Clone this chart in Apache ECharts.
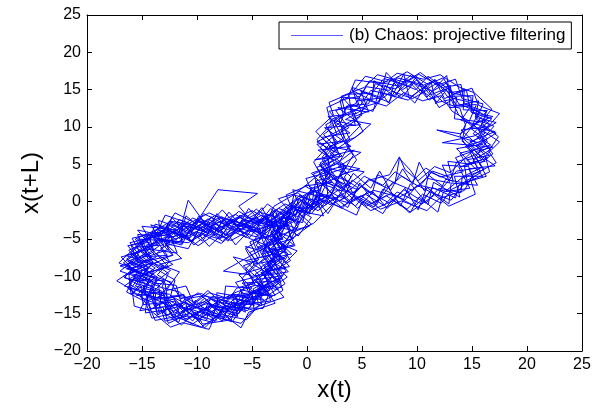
<!DOCTYPE html>
<html>
<head>
<meta charset="utf-8">
<script src="https://cdn.jsdelivr.net/npm/echarts@6/dist/echarts.min.js"></script>
<style>
html,body{margin:0;padding:0;background:#fff;}
#chart{width:594px;height:409px;}
</style>
</head>
<body>
<div id="chart"></div>
<script>
// Axis ticks
var xTicks = [-20, -15, -10, -5, 0, 5, 10, 15, 20, 25];
var yTicks = [-20, -15, -10, -5, 0, 5, 10, 15, 20, 25];
var seriesName = '(b) Chaos: projective filtering';

// Trajectory points [x(t), x(t+L)], in order
var lowerLoops1 = [
[-2.1,-2.8],[-3.4,-4.6],[-2.6,-6.9],[-3.9,-8.7],[-3.2,-10.8],[-5.1,-12.4],[-6.3,-14.6],[-8.8,-13.9],[-10.4,-15.2],[-12.6,-13.1],[-13.1,-11.6],[-15.2,-10.2],[-14.0,-8.1],[-14.9,-6.3],[-12.8,-4.7],[-11.2,-3.2],[-9.1,-4.1],[-7.0,-2.9],[-5.2,-3.6],[-3.6,-2.2],
[-3.8,-3.9],[-4.6,-5.8],[-3.9,-7.6],[-5.3,-9.4],[-4.7,-11.2],[-6.4,-12.1],[-8.2,-13.4],[-9.6,-12.3],[-11.5,-13.0],[-12.3,-11.0],[-13.6,-9.8],[-12.5,-8.0],[-13.3,-6.2],[-11.6,-5.3],[-10.1,-4.0],[-8.0,-5.0],[-6.4,-3.8],[-4.9,-4.6],
[-2.9,-5.2],[-1.8,-7.3],[-2.7,-9.5],[-2.2,-11.9],[-4.1,-13.4],[-5.5,-15.8],[-7.9,-15.1],[-9.6,-16.8],[-11.9,-15.4],[-13.8,-15.9],[-14.6,-13.2],[-16.3,-11.6],[-15.4,-9.3],[-17.1,-8.2],[-15.6,-6.1],[-14.3,-4.4],[-12.5,-2.7],[-10.3,-3.6],[-8.4,-1.9],[-6.1,-2.8],[-4.3,-1.4],[-2.4,-2.3],
[-1.6,-3.9],[-3.1,-6.1],[-2.3,-8.0],[-4.4,-9.9],[-3.6,-12.3],[-5.9,-13.5],[-7.4,-15.6],[-9.2,-14.3],[-11.0,-15.9],[-12.2,-14.1],[-14.4,-12.7],[-13.6,-10.5],[-15.8,-9.0],[-14.2,-7.4],[-15.0,-5.2],[-13.1,-3.9],[-11.9,-5.1],[-10.0,-2.6],[-8.1,-3.7],[-6.2,-2.1],[-4.0,-3.3],
[-2.2,-1.1],[-0.6,0.9],[0.9,-0.4],[1.4,2.6]
];
var upperLoops1 = [
[2.2,4.4],[1.6,6.8],[3.4,8.6],[2.9,11.1],[4.6,12.4],[5.8,14.9],[7.9,14.2],[9.3,16.1],[11.4,14.8],[12.7,15.9],[13.8,13.1],[15.6,12.0],[14.9,9.8],[16.4,8.1],[15.3,6.0],[16.1,4.3],[14.0,3.1],[12.6,1.4],[10.2,2.2],[8.4,0.6],[6.1,1.5],[4.2,0.3],[3.0,2.2],
[1.2,4.9],[2.5,6.2],[0.9,8.3],[2.2,10.4],[1.8,12.6],[3.7,13.9],[4.4,16.3],[6.9,15.8],[8.2,17.2],[10.6,16.4],[12.1,17.0],[13.9,15.3],[15.2,14.6],[16.8,12.4],[15.8,10.6],[17.4,8.7],[16.5,6.8],[17.2,5.2],[15.1,3.6],[14.3,1.5],[12.0,0.4],[10.9,-1.2],[8.6,0.1],[6.7,-1.0],[4.9,0.8],[3.1,-0.7],
[1.8,0.9],[0.4,-1.6],[-1.3,-0.5],[-1.9,-3.2]
];
var lowerLoops2 = [
[-3.3,-4.1],[-2.5,-6.3],[-4.2,-8.1],[-3.0,-10.0],[-4.9,-11.7],[-4.4,-13.6],[-6.6,-13.0],[-8.1,-15.1],[-10.2,-14.0],[-11.7,-14.9],[-13.0,-12.6],[-14.9,-11.9],[-14.1,-9.7],[-16.0,-8.4],[-14.5,-6.6],[-13.7,-4.9],[-11.4,-5.8],[-10.5,-3.4],[-8.6,-4.5],[-7.7,-2.6],[-5.7,-4.2],[-4.5,-2.6],
[-4.1,-4.9],[-5.6,-6.3],[-4.8,-8.4],[-5.9,-10.3],[-5.2,-12.4],[-7.3,-12.9],[-8.9,-12.2],[-10.4,-13.8],[-11.6,-12.1],[-13.2,-11.5],[-12.6,-9.6],[-13.9,-8.3],[-12.2,-7.1],[-13.0,-5.4],[-11.1,-4.6],[-9.9,-5.9],[-8.3,-4.3],[-6.9,-5.2],[-5.3,-3.9],
[-3.2,-3.2],[-3.9,-5.5],[-2.9,-7.2],[-3.7,-9.2],[-2.6,-10.6],[-4.5,-12.9],[-5.3,-14.3],[-7.6,-14.0],[-8.5,-16.2],[-10.8,-15.3],[-12.9,-16.0],[-13.4,-13.8],[-15.1,-12.9],[-14.7,-10.9],[-16.6,-10.2],[-15.3,-8.0],[-16.2,-6.5],[-14.8,-5.6],[-13.4,-3.3],[-11.8,-4.2],[-9.7,-2.4],[-7.6,-3.4],[-5.8,-1.9],[-3.9,-2.9],
[-2.6,-0.9],[-1.0,-1.8],[-0.2,0.8],[1.1,1.6],[0.6,3.7]
];
var upperLoops2 = [
[2.9,5.2],[3.8,7.4],[3.1,9.5],[4.7,11.2],[5.5,13.6],[7.2,12.8],[8.8,14.6],[10.5,13.5],[12.2,14.2],[13.2,12.1],[14.6,10.9],[13.9,8.8],[15.3,7.1],[14.2,5.6],[13.0,3.9],[11.6,4.7],[10.1,2.8],[8.9,4.3],[8.4,6.0],[7.5,3.6],[5.7,2.9],[4.6,1.6],
[2.3,3.1],[1.4,5.6],[2.8,7.9],[1.9,9.7],[3.5,11.8],[3.1,14.1],[5.2,15.3],[6.4,17.0],[8.9,16.0],[10.3,17.3],[11.8,15.6],[13.5,16.4],[14.1,13.8],[16.0,13.1],[15.4,11.0],[17.0,10.1],[15.9,8.3],[16.9,6.4],[15.7,5.1],[16.3,3.4],[14.4,2.6],[13.1,0.2],[11.2,1.3],[9.8,-0.6],[7.6,1.1],[5.9,-0.3],[4.1,1.0],
[2.6,2.4],[3.4,4.9],[2.1,6.4],[3.9,8.3],[3.3,10.2],[5.0,11.6],[4.6,13.5],[6.8,13.9],[7.6,16.4],[9.9,15.0],[11.0,16.8],[12.9,14.6],[14.5,14.9],[14.8,12.7],[16.5,11.3],[15.1,9.1],[16.7,7.6],[14.8,6.7],[15.5,4.5],[13.6,4.1],[12.4,2.0],[11.1,3.5],[9.6,1.5],[7.8,2.6],[6.6,0.4],[5.0,2.1],[3.6,0.6],
[2.1,-0.4],[0.9,0.7],[-0.3,-1.9],[-1.2,-3.6]
];
var lowerLoops3 = [
[-2.0,-5.6],[-3.3,-7.9],[-1.9,-9.2],[-2.9,-11.4],[-2.1,-12.8],[-4.6,-14.1],[-6.0,-16.3],[-8.4,-15.4],[-8.9,-17.1],[-11.3,-16.2],[-12.4,-16.8],[-14.2,-14.6],[-15.7,-14.0],[-15.9,-11.8],[-17.3,-10.6],[-15.8,-9.1],[-16.9,-7.4],[-15.2,-6.8],[-15.9,-4.9],[-13.6,-4.1],[-12.9,-1.8],[-10.7,-2.9],[-8.9,-1.5],[-7.2,-2.7],[-5.0,-1.2],[-3.5,-2.4],
[-2.4,-4.4],[-4.0,-6.6],[-3.1,-8.6],[-4.6,-10.5],[-3.9,-12.1],[-6.0,-12.6],[-6.9,-14.7],[-9.0,-13.6],[-10.9,-14.6],[-12.0,-13.3],[-13.9,-13.9],[-14.0,-11.3],[-15.6,-10.6],[-13.8,-8.9],[-15.1,-7.6],[-13.5,-6.0],[-14.2,-4.3],[-12.1,-3.7],[-10.8,-5.0],[-9.3,-3.1],[-7.4,-4.4],[-6.0,-2.8],[-4.2,-3.8],
[-4.9,-5.4],[-4.3,-7.3],[-5.6,-9.0],[-4.8,-10.9],[-6.4,-11.6],[-7.2,-13.3],[-9.4,-12.6],[-10.6,-12.9],[-12.4,-12.6],[-12.0,-10.5],[-13.5,-9.2],[-12.2,-8.4],[-13.7,-7.0],[-12.4,-5.2],[-10.8,-5.5],[-9.5,-4.4],[-7.8,-5.6],[-6.6,-4.1],[-5.1,-5.0],
[-3.6,-5.9],[-2.8,-8.2],[-3.8,-9.8],[-3.4,-11.9],[-5.3,-13.1],[-6.2,-15.0],[-8.3,-14.4],[-9.9,-15.8],[-11.5,-14.0],[-13.5,-14.7],[-13.2,-12.2],[-15.3,-11.0],[-14.4,-9.4],[-16.1,-7.0],[-14.0,-6.3],[-14.8,-4.7],[-12.7,-4.1],[-11.6,-2.4],[-9.6,-3.6],[-8.1,-2.2],[-6.8,-3.9],[-4.7,-2.1],[-3.0,-3.5],
[-1.8,-1.6],[-0.9,0.4],[0.7,-0.8],[1.6,1.9],[1.1,4.0]
];
var upperLoops3 = [
[0.6,5.3],[2.0,7.6],[0.8,9.4],[2.4,11.6],[2.0,13.3],[4.1,14.6],[5.3,16.8],[7.4,16.0],[9.1,17.4],[11.0,15.7],[12.4,16.6],[13.2,14.3],[15.0,15.2],[15.6,12.9],[17.5,11.8],[16.1,9.4],[17.5,8.0],[16.2,6.1],[16.6,4.0],[14.9,2.8],[15.3,1.0],[12.9,-0.6],[11.6,0.9],[9.3,-1.5],[8.1,0.3],[5.8,-1.2],[4.5,0.2],
[3.4,3.3],[4.5,5.6],[3.6,7.8],[5.1,9.4],[4.3,11.4],[6.1,12.4],[6.9,14.5],[9.2,13.6],[10.3,15.0],[11.9,13.3],[13.1,13.7],[13.8,11.6],[15.0,10.1],[14.1,8.3],[15.2,6.2],[13.6,5.3],[13.1,3.2],[11.4,4.1],[10.2,2.0],[8.6,3.4],[7.3,1.8],[5.6,3.0],[4.4,1.2],
[2.5,1.6],[1.2,-0.9],[-0.1,0.6],[-0.9,-2.4],[-2.3,-2.0]
];
var lowerLoops4 = [
[-2.7,-4.7],[-1.9,-6.4],[-3.4,-8.0],[-2.3,-10.2],[-3.8,-11.1],[-3.3,-13.3],[-5.7,-13.8],[-6.8,-16.1],[-9.1,-15.0],[-10.4,-16.4],[-12.3,-15.0],[-14.1,-15.6],[-14.7,-13.4],[-16.4,-12.1],[-15.6,-10.0],[-17.0,-9.3],[-15.5,-7.6],[-16.0,-5.8],[-14.3,-5.1],[-13.8,-3.0],[-11.9,-3.9],[-10.4,-2.2],[-8.6,-3.2],[-6.5,-1.7],[-5.1,-3.0],[-3.1,-1.6],
[-2.6,-3.7],[-3.5,-6.0],[-2.4,-7.7],[-4.1,-9.6],[-3.0,-11.2],[-5.0,-12.0],[-5.6,-13.9],[-7.8,-13.2],[-8.7,-15.4],[-10.7,-14.3],[-12.1,-15.6],[-13.0,-13.1],[-14.8,-12.4],[-14.3,-10.3],[-16.1,-9.6],[-14.5,-8.5],[-15.5,-6.9],[-13.8,-5.6],[-13.2,-3.8],[-11.0,-4.6],[-9.9,-2.7],[-8.0,-4.0],[-6.9,-2.3],[-5.4,-3.4],[-3.7,-2.0],
[-2.0,-0.3],[-0.5,-1.3],[0.3,1.5],[1.9,0.8],[1.7,3.3]
];
var upperLoops4 = [
[1.5,4.7],[3.0,6.0],[2.3,8.7],[3.8,9.9],[2.6,12.2],[4.4,13.1],[5.4,15.4],[7.5,14.9],[8.2,16.6],[10.6,15.6],[11.7,16.3],[12.8,14.0],[14.6,13.4],[15.3,11.7],[16.6,10.4],[15.5,8.6],[16.7,7.0],[15.1,5.5],[15.8,3.9],[13.8,2.2],[13.5,0.5],[11.4,1.9],[10.4,-0.3],[8.2,1.3],[7.0,-0.5],[5.3,1.0],[3.9,-0.2],
[2.4,0.4],[1.0,-1.2],[-0.4,-0.1],[-1.5,-2.8],[-1.0,-4.5]
];
var lowerLoops5 = [
[-2.2,-6.2],[-1.5,-7.9],[-2.8,-9.1],[-2.0,-11.0],[-3.5,-12.5],[-4.0,-14.3],[-6.1,-14.2],[-7.2,-15.9],[-9.5,-16.4],[-10.1,-14.8],[-12.2,-15.5],[-13.0,-13.5],[-14.9,-13.8],[-15.1,-11.3],[-16.7,-10.0],[-15.0,-8.7],[-16.4,-7.7],[-14.9,-6.1],[-15.4,-4.4],[-13.3,-4.6],[-12.5,-2.6],[-10.1,-3.2],[-9.4,-1.6],[-7.5,-3.0],[-6.2,-1.3],[-4.4,-2.8],[-2.9,-1.1],
[-3.9,-4.5],[-5.2,-5.4],[-4.4,-7.8],[-5.8,-8.6],[-4.5,-10.2],[-6.0,-11.9],[-6.5,-13.1],[-8.6,-12.7],[-9.9,-13.9],[-11.3,-12.5],[-12.7,-13.0],[-12.9,-10.9],[-14.2,-9.9],[-13.0,-8.6],[-14.4,-7.3],[-12.6,-6.4],[-12.9,-4.9],[-11.0,-4.3],[-10.3,-5.8],[-8.8,-4.1],[-7.7,-5.3],[-6.3,-3.5],[-4.8,-4.1],
[-3.3,-3.0],[-2.5,-5.0],[-3.6,-6.8],[-2.7,-8.8],[-4.3,-10.1],[-3.7,-12.5],[-5.8,-12.9],[-6.5,-15.3],[-8.9,-14.0],[-10.0,-15.6],[-11.8,-13.7],[-13.7,-14.3],[-13.8,-12.0],[-15.6,-11.3],[-14.6,-9.0],[-16.3,-8.0],[-14.6,-7.0],[-15.1,-5.3],[-13.2,-4.4],[-12.4,-2.9],[-10.6,-4.1],[-9.0,-2.3],[-7.3,-3.8],[-5.5,-2.5],[-3.4,-3.1],
[-1.6,-1.9],[-1.2,0.9],[0.5,0.2],[0.8,2.8],[2.1,3.2]
];
var upperLoops5 = [
[1.9,5.8],[2.8,7.1],[1.5,9.0],[3.1,10.7],[3.6,12.8],[5.6,13.1],[6.2,15.8],[8.0,15.1],[9.8,16.7],[11.2,14.3],[12.6,15.1],[13.6,12.9],[15.4,13.0],[14.7,10.6],[16.2,9.2],[14.7,7.7],[16.2,5.4],[14.3,4.9],[14.6,2.4],[12.6,3.0],[11.9,0.8],[10.0,2.2],[8.9,0.2],[6.9,1.7],[6.1,-0.7],[4.2,0.7],[3.2,-0.9],
[1.6,0.2],[0.2,-1.0],[-0.7,0.5],[-1.4,-2.2],[-2.4,-3.3]
];
var lowerLoops6 = [
[-3.0,-4.6],[-2.2,-6.8],[-3.6,-8.4],[-2.5,-10.2],[-4.1,-11.5],[-4.9,-13.8],[-6.8,-13.5],[-7.6,-15.5],[-9.7,-14.7],[-11.0,-15.7],[-12.7,-14.2],[-13.6,-15.0],[-14.2,-12.6],[-16.0,-11.6],[-15.1,-9.8],[-16.5,-8.6],[-15.3,-7.1],[-16.1,-5.5],[-13.9,-4.7],[-12.8,-3.5],[-11.5,-5.0],[-9.8,-3.1],[-8.3,-4.4],[-6.7,-2.6],[-4.6,-3.6],
[-3.5,-5.2],[-4.1,-7.1],[-3.2,-9.0],[-4.4,-11.1],[-4.1,-12.8],[-6.2,-13.6],[-7.7,-14.9],[-9.3,-13.4],[-11.2,-14.2],[-12.5,-12.4],[-14.3,-12.1],[-13.6,-10.1],[-15.3,-8.5],[-13.7,-7.4],[-14.6,-5.8],[-12.8,-5.2],[-11.7,-3.6],[-9.9,-4.8],[-8.5,-3.3],[-7.0,-4.7],[-5.9,-3.0],[-4.2,-4.3],
[-2.5,-2.5],[-1.4,-0.7],[0.0,-0.9],[0.4,1.8],[1.8,2.4],[0.9,4.6]
];
var upperLoops6 = [
[2.4,5.5],[1.2,7.3],[2.7,9.1],[2.2,11.0],[4.0,12.1],[3.8,14.4],[5.9,14.5],[7.0,16.5],[9.3,15.4],[10.1,17.1],[12.3,15.3],[14.0,15.7],[14.3,13.1],[16.3,12.0],[15.8,10.0],[17.2,9.2],[15.4,7.5],[16.4,5.8],[14.6,5.1],[15.1,3.0],[13.2,1.7],[12.2,-0.2],[10.5,1.0],[9.1,-1.0],[7.2,0.8],[5.4,-0.6],[3.8,1.3],
[3.1,3.6],[4.2,6.2],[3.4,8.0],[4.8,10.1],[4.1,12.2],[6.3,13.2],[7.7,14.8],[9.6,13.8],[11.1,15.1],[12.4,13.3],[13.9,12.5],[14.4,10.3],[14.1,8.1],[15.1,6.8],[13.5,5.9],[14.2,4.0],[12.1,3.3],[10.8,4.5],[9.5,2.6],[8.0,4.0],[6.9,2.2],[5.2,3.4],[4.1,1.8],
[2.7,0.5],[1.0,0.9],[0.1,-1.5],[-1.7,-0.8],[-2.0,-3.4]
];
var lowerLoops7 = [
[-3.1,-5.6],[-2.4,-7.5],[-3.9,-8.9],[-2.8,-10.7],[-4.3,-12.0],[-5.4,-14.6],[-7.5,-13.9],[-8.3,-16.0],[-10.3,-15.0],[-11.4,-16.5],[-13.3,-14.6],[-14.7,-14.9],[-14.5,-12.5],[-16.2,-11.0],[-15.2,-9.5],[-16.7,-8.2],[-15.0,-6.4],[-15.6,-5.0],[-13.6,-3.7],[-12.2,-4.9],[-10.9,-2.8],[-9.2,-4.0],[-7.8,-2.0],[-6.0,-3.3],[-4.1,-1.8],
[-2.9,-3.4],[-3.7,-5.3],[-3.0,-7.5],[-4.2,-8.8],[-3.5,-10.9],[-5.1,-12.2],[-6.1,-14.0],[-8.1,-13.4],[-9.3,-14.6],[-11.1,-13.5],[-12.6,-14.1],[-13.2,-12.0],[-14.6,-11.1],[-13.9,-9.2],[-15.5,-7.9],[-13.9,-6.7],[-14.3,-4.9],[-12.4,-4.3],[-11.4,-2.8],[-9.6,-3.9],[-8.0,-2.7],[-6.2,-4.1],[-5.0,-2.2],[-3.2,-2.8],
[-1.5,-1.2],[-0.4,0.3],[0.4,-0.6],[1.3,2.0],[2.3,3.8]
];
var upperLoops7 = [
[1.4,6.0],[2.6,8.0],[1.7,10.3],[3.3,11.6],[3.0,13.6],[4.8,14.1],[5.7,16.2],[8.3,15.5],[9.5,17.0],[10.9,15.1],[12.0,16.0],[13.4,14.5],[14.9,14.0],[15.0,11.9],[16.8,11.1],[15.6,9.6],[16.4,7.2],[15.2,6.2],[15.9,4.6],[14.1,3.3],[14.0,1.2],[12.0,1.8],[10.8,-0.2],[8.8,1.6],[7.5,-0.2],[5.5,1.4],[4.4,-0.6],[3.0,0.9],
[1.5,-0.6],[0.3,0.4],[-0.8,-2.0],[-2.0,-1.5],[-2.7,-4.1]
];
var lowerLoops8 = [
[-3.9,-6.2],[-3.1,-8.1],[-4.7,-9.7],[-3.9,-11.6],[-5.6,-12.7],[-7.0,-14.2],[-8.6,-13.0],[-10.1,-14.3],[-11.9,-13.0],[-13.3,-13.4],[-13.5,-11.1],[-15.0,-10.0],[-14.0,-8.1],[-15.2,-6.6],[-13.3,-5.5],[-12.2,-4.0],[-10.6,-5.3],[-9.1,-3.6],[-7.3,-4.9],[-5.6,-3.4],[-3.8,-4.3],[-2.2,-2.1],
[-1.0,-2.5],[-2.8,-3.9],[-1.2,-5.8],[-3.5,-6.4],[-1.9,-8.9],[-4.2,-9.5],[-2.6,-11.8],[-5.4,-11.0],[-4.8,-13.9],[-7.1,-12.6],[-7.9,-15.2],[-9.3,-12.9],[-10.8,-15.0],[-11.2,-12.4],[-13.7,-13.1],[-12.3,-10.8],[-14.8,-9.6],[-12.6,-8.7],[-14.1,-6.4],[-11.8,-6.9],[-12.6,-3.8],[-10.4,-5.4],[-9.6,-2.9],[-7.9,-4.9],[-6.8,-2.4],[-5.6,-4.8],[-4.0,-1.9],[-2.3,-3.6],
[-3.4,-5.6],[-5.2,-6.8],[-4.1,-8.9],[-6.2,-9.8],[-5.0,-11.6],[-7.4,-11.3],[-7.6,-13.8],[-9.0,-11.9],[-10.3,-13.6],[-11.0,-11.3],[-12.8,-11.9],[-11.6,-9.4],[-13.4,-8.4],[-11.4,-7.6],[-12.9,-5.6],[-10.8,-6.3],[-10.0,-4.1],[-8.9,-6.0],[-7.4,-3.9],[-6.5,-5.8],[-5.1,-3.6],[-3.7,-4.9]
];
var neckPath1 = [
[-2.1,-3.0],[-0.8,-4.6],[0.4,-2.1],[-1.6,-0.4],[0.2,1.3],[1.7,-0.3],[2.5,1.8],[0.9,2.6],[1.2,0.2],[-0.5,-1.4],[-1.1,-3.5],[-2.9,-2.6],[-2.2,-5.1],[-4.3,-4.2],[-3.6,-6.8],[-5.6,-6.0],[-4.5,-8.3],[-6.7,-7.4],[-5.2,-9.8],[-7.6,-9.3]
];
var lowerLoops9 = [
[-2.2,-4.8],[-4.5,-6.1],[-2.0,-7.6],[-4.9,-8.4],[-2.4,-10.6],[-5.9,-10.9],[-3.9,-13.2],[-6.8,-12.4],[-6.3,-15.4],[-8.8,-13.0],[-9.8,-16.1],[-10.9,-13.5],[-12.8,-15.3],[-13.0,-12.1],[-15.5,-12.6],[-13.9,-10.2],[-16.4,-9.0],[-13.5,-8.1],[-15.6,-6.1],[-13.0,-5.8],[-14.2,-3.1],[-11.5,-4.4],[-11.0,-1.9],[-9.0,-4.3],[-8.2,-1.6],[-6.5,-3.9],[-5.3,-0.9],[-3.9,-3.2],[-2.0,-1.3],
[-0.8,-3.4],[-2.9,-4.9],[-1.4,-7.0],[-3.3,-7.6],[-2.2,-9.9],[-4.8,-10.5],[-3.2,-12.7],[-6.0,-11.8],[-5.6,-14.8],[-8.1,-12.9],[-8.6,-15.7],[-10.1,-13.2],[-11.6,-15.1],[-12.1,-12.8],[-14.5,-12.9],[-13.0,-10.6],[-15.7,-10.3],[-13.4,-9.0],[-15.0,-7.4],[-12.7,-7.2],[-13.9,-4.8],[-11.3,-5.6],[-11.8,-2.6],[-9.8,-4.7],[-8.7,-2.0],[-7.4,-4.6],[-6.1,-1.8],[-4.9,-4.0],[-3.3,-0.9],[-1.9,-2.9],
[-2.6,-5.3],[-1.7,-7.1],[-3.0,-8.3],[-1.8,-10.1],[-3.6,-12.0],[-2.9,-13.6],[-5.3,-14.8],[-6.0,-16.9],[-7.9,-14.8],[-9.3,-16.9],[-10.6,-14.9],[-12.6,-16.3],[-13.1,-14.1],[-15.2,-14.6],[-14.4,-12.2],[-16.6,-11.3],[-15.0,-9.6],[-17.0,-8.6],[-15.1,-7.9],[-16.3,-5.9],[-14.2,-5.4],[-15.0,-3.3],[-12.9,-3.6],[-12.0,-1.5],[-10.1,-2.9],[-8.1,1.6],[-4.5,1.1],[-6.2,-0.6],[-5.0,-2.7],[-3.6,-0.3],[-2.1,-1.9],
[-0.6,-0.9],[-1.3,1.6],[0.6,0.9],[-0.1,3.1],[1.8,3.9]
];
var neckPath2 = [
[3.9,2.6],[2.2,0.9],[3.7,-0.8],[4.6,1.9],[2.9,3.5],[4.8,4.4],[2.7,5.1],[4.3,6.9]
];
var upperLoops8 = [
[0.7,5.6],[3.2,6.1],[1.3,8.6],[3.9,9.2],[1.9,11.4],[4.5,11.8],[3.2,14.0],[5.9,13.6],[6.1,16.2],[8.0,14.0],[9.0,16.5],[10.4,14.4],[11.6,16.4],[12.5,13.8],[14.3,15.1],[14.2,12.3],[16.4,12.2],[15.0,9.9],[17.1,9.4],[14.8,8.0],[16.6,6.2],[14.5,5.6],[16.0,3.4],[13.4,3.4],[13.9,0.6],[11.5,2.6],[11.0,-0.4],[9.4,2.4],[8.5,-0.6],[7.2,2.3],[6.3,-0.5],[4.8,2.5],[3.9,-0.3],[2.6,1.9],
[1.1,3.3],[3.6,4.6],[1.0,6.9],[4.0,7.4],[1.6,9.9],[4.9,10.3],[2.8,12.6],[5.6,12.0],[4.9,14.8],[7.5,13.3],[7.9,15.9],[9.8,13.2],[10.8,15.6],[12.0,12.6],[13.6,14.0],[13.4,11.1],[15.7,10.7],[13.9,9.1],[11.8,9.6],[16.0,7.7],[13.6,7.1],[15.0,5.0],[12.8,5.4],[13.3,2.7],[11.1,4.0],[10.7,1.4],[9.4,4.2],[8.4,5.8],[8.0,2.5],[6.4,3.6],[5.9,1.0],[4.1,2.9],[3.3,0.4],
[2.0,1.4],[0.4,3.8],[2.6,5.0],[0.9,7.7],[3.4,8.1],[2.4,10.9],[4.4,10.2],[3.9,13.0],[6.0,12.1],[6.6,15.0],[7.4,13.2],[8.8,17.1],[9.3,13.9],[11.3,16.0],[11.7,13.1],[13.0,15.6],[13.4,12.8],[15.6,13.5],[15.3,11.3],[17.2,10.6],[15.2,8.8],[12.3,7.9],[16.9,7.3],[15.3,6.7],[17.1,4.8],[14.7,4.4],[15.5,2.2],[13.1,2.5],[12.9,-0.3],[10.9,1.9],[10.1,-1.1],[8.9,1.8],[7.3,-0.9],[6.0,1.3],[4.6,-0.9],[3.1,1.2],
[1.9,-1.6],[0.8,0.4],[-0.6,-2.2],[0.2,-3.3],[-1.7,-4.0]
];
var lowerLoops10 = [
[-1.1,-5.9],[-3.3,-6.7],[-1.7,-9.4],[-3.9,-9.9],[-2.9,-12.6],[-5.0,-12.1],[-4.8,-14.6],[-7.0,-13.5],[-7.7,-16.0],[-9.5,-14.1],[-10.4,-16.0],[-11.9,-13.7],[-13.6,-15.2],[-13.9,-12.7],[-15.9,-12.3],[-14.5,-10.0],[-16.3,-8.6],[-14.2,-7.7],[-15.4,-5.0],[-13.2,-5.2],[-13.5,-2.5],[-11.5,-3.6],[-10.8,0.2],[-9.1,-3.3],[-7.7,-1.1],[-6.4,-3.2],[-4.6,-1.0],[-3.2,-2.7],[-1.4,-1.9],
[-2.6,-4.2],[-4.7,-5.1],[-3.4,-7.2],[-5.6,-7.9],[-4.3,-9.9],[-6.5,-10.8],[-5.5,-12.9],[-8.2,-12.2],[-8.1,-14.5],[-9.9,-12.2],[-11.4,-13.7],[-11.9,-11.2],[-13.9,-10.9],[-12.4,-9.2],[-14.5,-7.9],[-12.2,-7.2],[-13.6,-5.0],[-11.4,-5.4],[-11.3,-3.2],[-9.5,-5.3],[-8.5,-3.1],[-7.2,-5.3],[-6.0,-2.9],[-4.4,-4.6],[-3.0,-2.2],
[-1.2,-0.2],[0.2,-1.7],[0.9,1.2],[-0.2,2.1],[2.3,2.6],[1.1,5.0]
];
var upperLoops9 = [
[3.5,2.0],[5.2,4.0],[2.8,4.6],[4.9,6.6],[2.0,7.4],[4.4,8.6],[5.8,10.4],[3.5,11.0],[5.4,12.6],[4.1,14.9],[6.5,13.1],[7.1,15.6],[8.6,13.9],[9.7,15.9],[11.1,13.6],[12.9,15.3],[13.0,12.6],[14.9,12.8],[14.0,10.9],[16.3,10.0],[14.0,9.6],[15.8,7.2],[13.9,6.5],[14.6,4.7],[12.3,4.9],[13.0,2.5],[11.0,3.1],[10.2,5.3],[9.6,2.3],[8.7,4.4],[7.6,1.5],[6.6,4.1],[5.8,1.8],[4.2,3.8],[3.3,1.5],[1.9,3.0],[1.2,5.2],
[2.9,6.4],[0.9,8.0],[3.4,9.9],[2.0,12.1],[4.6,12.9],[4.1,15.3],[6.6,14.0],[7.2,17.3],[8.7,15.0],[10.0,16.3],[10.9,14.0],[12.7,16.9],[13.0,14.1],[15.1,14.2],[14.9,12.0],[16.9,11.4],[15.1,10.4],[16.4,8.4],[14.4,7.4],[15.9,5.6],[13.8,4.6],[14.8,1.8],[12.4,1.3],[11.9,-1.4],[10.2,0.6],[9.4,-1.4],[7.7,0.3],[6.9,-1.6],[5.0,0.0],[4.5,-1.8],[2.4,-0.3],
[1.3,1.1],[0.0,-0.5],[-0.4,-2.8],[-2.0,-2.2],[-1.4,-5.0]
];
var neckPath3 = [
[0.4,-3.0],[-1.0,-1.2],[1.5,-1.9],[0.7,0.9],[2.6,0.3],[1.4,2.7],[3.3,1.8],[2.1,4.4],[3.6,3.9],[1.0,2.0],[-0.6,0.0],[-2.2,-1.6],[-1.5,-3.8],[-3.5,-3.1],[-2.8,-5.4],[-0.9,-6.6],[-2.0,-8.2]
];
var lowerLoops11 = [
[-2.9,-6.3],[-1.6,-8.7],[-3.5,-9.2],[-2.3,-11.5],[-4.5,-11.2],[-4.1,-13.9],[-6.3,-13.1],[-6.9,-15.9],[-8.4,-13.6],[-9.2,-15.1],[-11.1,-13.0],[-12.0,-15.2],[-13.0,-12.5],[-14.6,-13.3],[-14.0,-10.7],[-16.2,-10.4],[-14.0,-8.4],[-16.5,-7.2],[-14.1,-6.2],[-15.4,-3.8],[-12.8,-4.6],[-12.3,-2.1],[-10.9,-4.3],[-9.8,-1.9],[-8.4,-4.2],[-7.1,-1.4],[-5.7,-3.7],[-4.1,-0.8],[-2.9,-3.9],[-1.5,-2.6],
[-3.1,-4.4],[-1.9,-6.1],[-4.0,-7.0],[-2.9,-9.5],[-5.1,-10.0],[-3.8,-11.9],[-6.6,-12.5],[-6.0,-14.6],[-8.9,-13.8],[-9.1,-15.8],[-11.0,-14.2],[-11.7,-16.2],[-13.1,-13.5],[-14.2,-14.4],[-14.9,-11.2],[-16.0,-12.4],[-16.2,-9.6],[-14.4,-9.0],[-16.0,-6.8],[-14.2,-4.6],[-12.5,-5.6],[-12.7,-3.0],[-10.7,-4.9],[-10.0,-2.4],[-8.0,-4.1],[-7.0,-2.5],[-5.2,-4.8],[-3.9,-2.3],[-2.3,-3.4],
[-1.4,-1.5],[-2.6,0.4],[-0.8,1.2],[0.6,-1.2]
];
var neckPath4 = [
[1.8,0.4],[0.1,2.2],[-1.9,0.9],[-0.8,-2.9],[-2.7,-1.2],[-3.1,-3.8],[-1.2,-4.9],[-3.9,-6.1],[-2.1,-6.8],[-0.5,-2.3],[1.1,-0.1],[2.9,2.6],[1.6,4.1],[3.4,4.8],[2.2,1.0],[0.3,-0.4],[-1.9,-2.5],[-4.1,-4.0],[-3.0,-0.6],[-1.1,1.0],[0.8,3.3],[2.6,5.3],[4.0,3.3],[2.5,-0.1],[0.6,-2.9],[-1.4,-4.2],[-2.8,-6.9],[-4.6,-7.6]
];

var trajectory = [].concat(
  lowerLoops1, upperLoops1, lowerLoops2, upperLoops2, lowerLoops3, upperLoops3,
  lowerLoops4, upperLoops4, lowerLoops5, upperLoops5, lowerLoops6, upperLoops6,
  lowerLoops7, upperLoops7, lowerLoops8, neckPath1, lowerLoops9, neckPath2,
  upperLoops8, lowerLoops10, upperLoops9, neckPath3, lowerLoops11, neckPath4
);

function fmt(v) {
  return v < 0 ? '\u2212' + Math.abs(v) : String(v);
}

var chart = echarts.init(document.getElementById('chart'), null, {renderer: 'canvas'});
var fontFam = '"Liberation Sans", Arial, Helvetica, sans-serif';
var axisCommon = {
  type: 'value',
  interval: 5,
  axisLine: {show: true, onZero: false, lineStyle: {color: '#000', width: 1}},
  axisTick: {show: true, inside: true, length: 5, lineStyle: {color: '#000'}},
  splitLine: {show: false}
};
var option = {
  animation: false,
  backgroundColor: '#fff',
  grid: {left: 87, right: 12, top: 15, bottom: 58, containLabel: false},
  legend: {
    show: true,
    data: [{name: seriesName, icon: 'rect'}],
    left: 279,
    top: 22,
    width: 295,
    padding: [5, 6, 5, 12],
    itemWidth: 52,
    itemHeight: 1,
    itemGap: 0,
    borderColor: '#000',
    borderWidth: 1,
    borderRadius: 0,
    backgroundColor: '#fff',
    itemStyle: {color: '#5b5bff'},
    textStyle: {fontSize: 17, color: '#000', fontFamily: fontFam, padding: [0, 0, 0, 1]}
  },
  xAxis: [
    Object.assign({}, axisCommon, {
      min: xTicks[0], max: xTicks[xTicks.length - 1], position: 'bottom',
      name: 'x(t)', nameLocation: 'middle', nameGap: 27,
      nameTextStyle: {fontSize: 24, color: '#000', fontFamily: fontFam},
      axisLabel: {show: true, fontSize: 16, color: '#000', margin: 6, fontFamily: fontFam, formatter: fmt}
    }),
    Object.assign({}, axisCommon, {
      min: xTicks[0], max: xTicks[xTicks.length - 1], position: 'top',
      axisLabel: {show: false}
    })
  ],
  yAxis: [
    Object.assign({}, axisCommon, {
      min: yTicks[0], max: yTicks[yTicks.length - 1], position: 'left',
      name: 'x(t+L)', nameLocation: 'middle', nameGap: 44, nameRotate: 90,
      nameTextStyle: {fontSize: 24, color: '#000', fontFamily: fontFam},
      axisLabel: {show: true, fontSize: 16, color: '#000', margin: 6, fontFamily: fontFam, formatter: fmt}
    }),
    Object.assign({}, axisCommon, {
      min: yTicks[0], max: yTicks[yTicks.length - 1], position: 'right',
      axisLabel: {show: false}
    })
  ],
  series: [{
    name: seriesName,
    type: 'line',
    xAxisIndex: 0,
    yAxisIndex: 0,
    data: trajectory,
    showSymbol: false,
    symbol: 'none',
    smooth: false,
    sampling: null,
    clip: true,
    lineStyle: {color: '#0000ff', width: 1},
    itemStyle: {color: '#0000ff'}
  }]
};
chart.setOption(option);
</script>
</body>
</html>
